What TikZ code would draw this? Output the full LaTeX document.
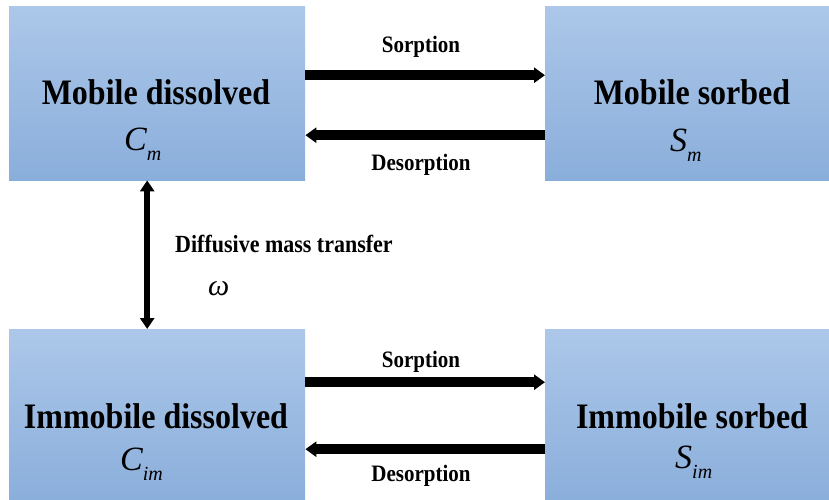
\documentclass[tikz,border=0pt]{standalone}
\usepackage{fontspec}
\usepackage{graphicx}
\setmainfont{Liberation Serif}
\usetikzlibrary{arrows.meta}
\definecolor{boxtop}{RGB}{172,199,233}
\definecolor{boxbot}{RGB}{138,174,219}
\newcommand{\tallx}[1]{\scalebox{1}[1.12]{#1}}
\tikzset{
  statebox/.style={draw=none, top color=boxtop, bottom color=boxbot, minimum width=296pt, minimum height=174pt, inner sep=0pt, anchor=north west},
  title/.style={anchor=base, inner sep=0pt, font=\fontsize{32}{38}\selectfont\bfseries},
  symb/.style={anchor=base west, inner sep=0pt, font=\fontsize{34}{40}\selectfont\itshape},
  lbl/.style={anchor=base, inner sep=0pt, font=\fontsize{21}{25}\selectfont\bfseries},
  flow/.style={line width=10pt, -{Triangle[width=15pt,length=11pt]}},
  diff/.style={line width=6pt, {Triangle[width=14pt,length=11pt]}-{Triangle[width=14pt,length=11pt]}}
}
\newcommand{\subsc}[1]{\raisebox{-10pt}{\fontsize{20}{24}\selectfont\itshape #1}}
\begin{document}
\begin{tikzpicture}[x=1pt,y=-1pt]
\useasboundingbox (0,0) rectangle (829,500);
% boxes
\node[statebox] (mdis) at (9,6) {};
\node[statebox] (msorb) at (545,6) {};
\node[statebox] (idis) at (9,329) {};
\node[statebox] (isorb) at (545,329) {};
% box texts
\node[title] (tmdis) at (156,105) {\tallx{Mobile dissolved}};
\node[symb] (cm) at (124,150) {C\subsc{m}};
\node[title] (tmsorb) at (692,105) {\tallx{Mobile sorbed}};
\node[symb] (sm) at (670,151) {S\subsc{m}};
\node[title] (tidis) at (156,428) {\tallx{Immobile dissolved}};
\node[symb] (cim) at (120,470) {C\subsc{im}};
\node[title] (tisorb) at (692,428) {\tallx{Immobile sorbed}};
\node[symb] (sim) at (675,468) {S\subsc{im}};
% arrows
\draw[flow] ([yshift=18pt]mdis.east) -- ([yshift=18pt]msorb.west);
\draw[flow] ([yshift=-42pt]msorb.west) -- ([yshift=-42pt]mdis.east);
\draw[flow] ([yshift=34pt]idis.east) -- ([yshift=34pt]isorb.west);
\draw[flow] ([yshift=-33pt]isorb.west) -- ([yshift=-33pt]idis.east);
\draw[diff] ([xshift=-10pt]mdis.south) -- ([xshift=-10pt]idis.north);
% labels
\node[lbl] (s1) at (421,53) {\tallx{Sorption}};
\node[lbl] (d1) at (421,170) {\tallx{Desorption}};
\node[lbl] (s2) at (421,367) {\tallx{Sorption}};
\node[lbl] (d2) at (421,481) {\tallx{Desorption}};
\node[anchor=base west, inner sep=0pt, font=\fontsize{22}{26}\selectfont\bfseries] (dmt) at (175,252) {\tallx{Diffusive mass transfer}};
\node[anchor=base west, inner sep=0pt, font=\fontsize{30}{36}\selectfont\itshape] (om) at (208,295) {ω};
\end{tikzpicture}
\end{document}
